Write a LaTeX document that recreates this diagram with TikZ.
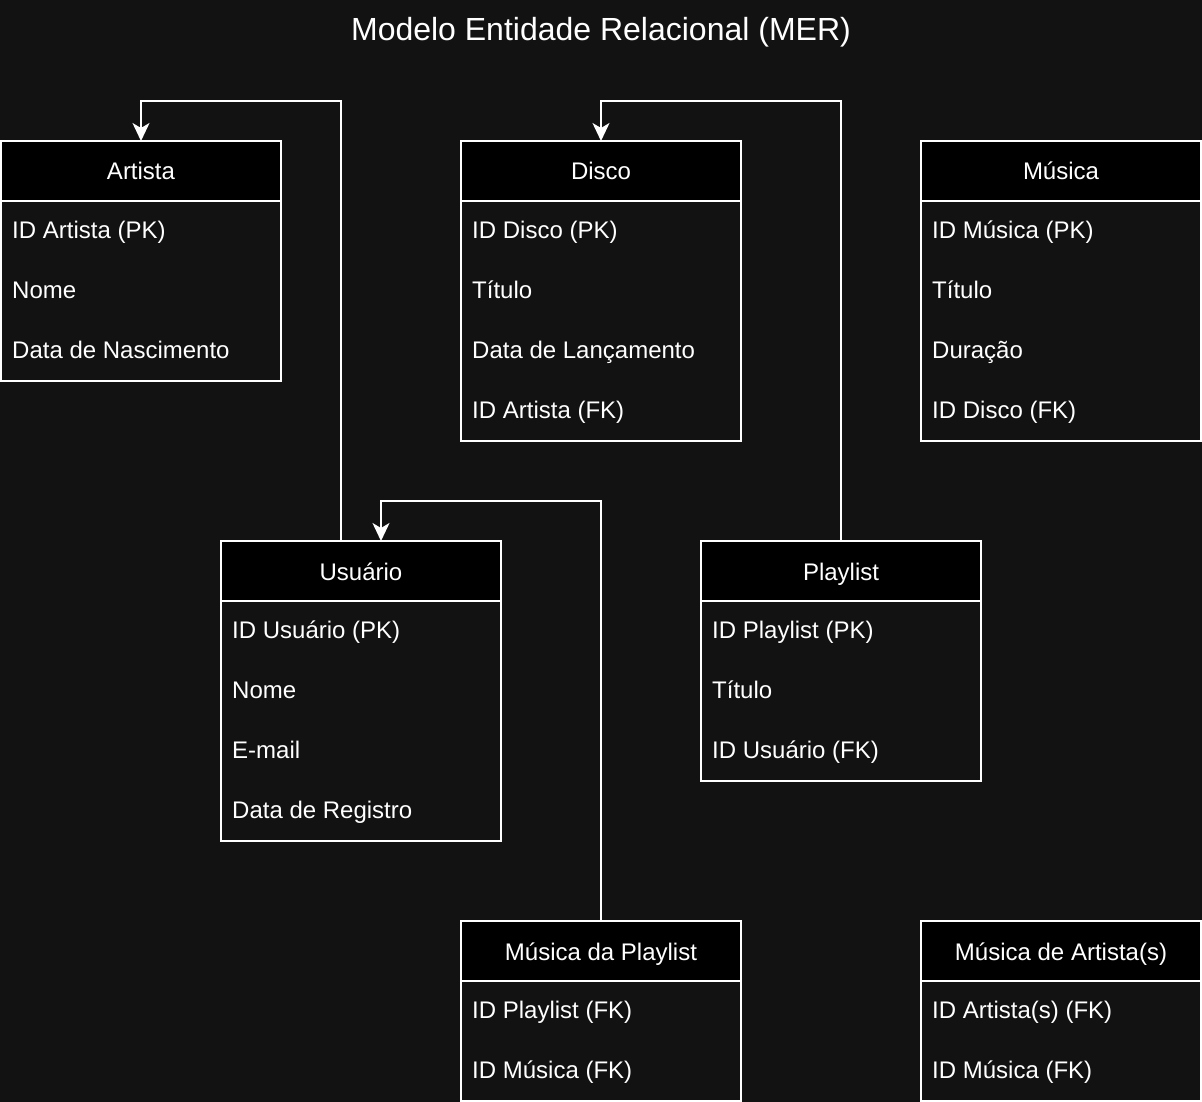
\documentclass[tikz,border=0pt]{standalone}
\usepackage{fontspec}
\setmainfont{Liberation Sans}
\usetikzlibrary{arrows.meta,positioning}
\definecolor{fundo}{RGB}{18,18,18}
\begin{document}
\begin{tikzpicture}[x=1pt, y=-1pt, font=\fontsize{24}{29}\selectfont, line join=miter, >={Stealth[length=18pt,width=17pt,inset=5pt]}]
			\tikzset{
				cab/.style={draw=white, line width=2pt, fill=black, text=white, minimum width=280pt, minimum height=60pt, inner sep=0pt, outer sep=0pt, text height=20pt, text depth=2pt},
				corpo/.style={draw=white, line width=2pt, fill=fundo, minimum width=280pt, inner sep=0pt, outer sep=0pt},
				campo/.style={text=white, anchor=west, inner sep=0pt, text height=17pt, text depth=5pt},
				liga/.style={draw=white, line width=2pt, ->}
			}
			\fill[fundo] (0,0) rectangle (1202,1102);
			\useasboundingbox (0,0) rectangle (1202,1102);
			\node[text=white, font=\fontsize{32}{38}\selectfont] (titulo) at (601,32) {Modelo Entidade Relacional (MER)};
			% cabecalhos
			\node[cab] (artista) at (141,171) {Artista};
			\node[cab] (disco) at (601,171) {Disco};
			\node[cab] (musica) at (1061,171) {Música};
			\node[cab] (usuario) at (361,571) {Usuário};
			\node[cab] (playlist) at (841,571) {Playlist};
			\node[cab] (musplay) at (601,951) {Música da Playlist};
			\node[cab] (musart) at (1061,951) {Música de Artista(s)};
			% corpos
			\node[corpo, minimum height=180pt, below=0pt of artista] (artistaC) {};
			\node[corpo, minimum height=240pt, below=0pt of disco] (discoC) {};
			\node[corpo, minimum height=240pt, below=0pt of musica] (musicaC) {};
			\node[corpo, minimum height=240pt, below=0pt of usuario] (usuarioC) {};
			\node[corpo, minimum height=180pt, below=0pt of playlist] (playlistC) {};
			\node[corpo, minimum height=120pt, below=0pt of musplay] (musplayC) {};
			\node[corpo, minimum height=120pt, below=0pt of musart] (musartC) {};
			% campos
			\foreach \t [count=\i] in {ID Artista (PK), Nome, Data de Nascimento}{
				\node[campo] (artista-\i) at ([xshift=11pt, yshift={-31pt-60pt*(\i-1)}]artistaC.north west) {\t};}
			\foreach \t [count=\i] in {ID Disco (PK), Título, Data de Lançamento, ID Artista (FK)}{
				\node[campo] (disco-\i) at ([xshift=11pt, yshift={-31pt-60pt*(\i-1)}]discoC.north west) {\t};}
			\foreach \t [count=\i] in {ID Música (PK), Título, Duração, ID Disco (FK)}{
				\node[campo] (musica-\i) at ([xshift=11pt, yshift={-31pt-60pt*(\i-1)}]musicaC.north west) {\t};}
			\foreach \t [count=\i] in {ID Usuário (PK), Nome, E-mail, Data de Registro}{
				\node[campo] (usuario-\i) at ([xshift=11pt, yshift={-31pt-60pt*(\i-1)}]usuarioC.north west) {\t};}
			\foreach \t [count=\i] in {ID Playlist (PK), Título, ID Usuário (FK)}{
				\node[campo] (playlist-\i) at ([xshift=11pt, yshift={-31pt-60pt*(\i-1)}]playlistC.north west) {\t};}
			\foreach \t [count=\i] in {ID Playlist (FK), ID Música (FK)}{
				\node[campo] (musplay-\i) at ([xshift=11pt, yshift={-31pt-60pt*(\i-1)}]musplayC.north west) {\t};}
			\foreach \t [count=\i] in {ID Artista(s) (FK), ID Música (FK)}{
				\node[campo] (musart-\i) at ([xshift=11pt, yshift={-31pt-60pt*(\i-1)}]musartC.north west) {\t};}
			% ligacoes
			\draw[liga] ([xshift=-20pt]usuario.north) -- ++(0,-440) -| (artista.north);
			\draw[liga] (playlist.north) -- ++(0,-440) -| (disco.north);
			\draw[liga] (musplay.north) -- ++(0,-420) -| ([xshift=20pt]usuario.north);
			\end{tikzpicture}
\end{document}
